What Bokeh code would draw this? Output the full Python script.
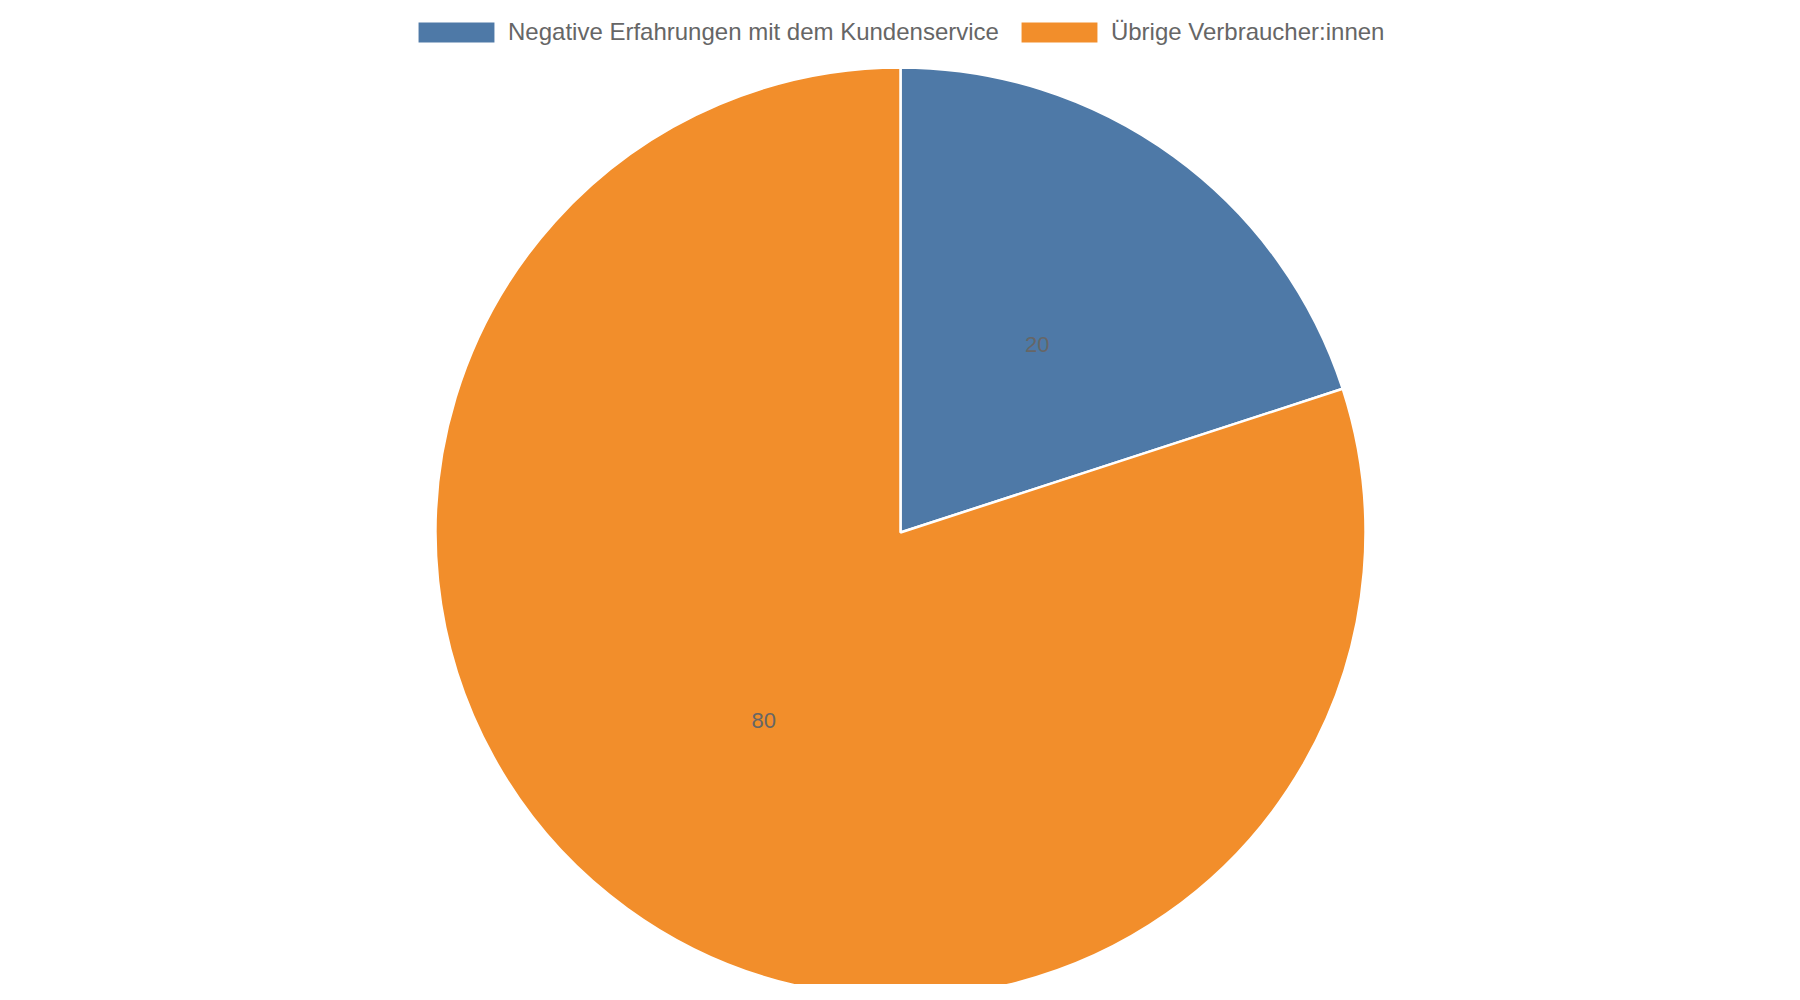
import numpy as np
from bokeh.plotting import figure
from bokeh.models import Range1d, ColumnDataSource, Legend, LegendItem
from bokeh.core.properties import value
from bokeh.embed import file_html
from bokeh.resources import INLINE

labels = ["Negative Erfahrungen mit dem Kundenservice", "Übrige Verbraucher:innen"]
values = [20, 80]
colors = ["#4e79a7", "#f28e2b"]

W, H = 1784, 984
radius = 465

# slices run clockwise from 12 o'clock
frac = np.array(values, dtype=float) / sum(values)
ends = np.pi / 2 - 2 * np.pi * np.concatenate([[0], np.cumsum(frac)[:-1]])
starts = ends - 2 * np.pi * frac
mids = (starts + ends) / 2

src = ColumnDataSource(dict(
    label=labels, value=values, color=colors,
    start=starts, end=ends,
    lx=0.5 * radius * np.cos(mids), ly=0.5 * radius * np.sin(mids),
    txt=[str(v) for v in values],
))

p = figure(width=W, height=H, output_backend="svg", toolbar_location=None,
           x_range=Range1d(-900, W - 900), y_range=Range1d(-(H - 532), 532),
           min_border=0)
p.axis.visible = False
p.grid.visible = False
p.outline_line_color = None
p.background_fill_color = "white"

items = []
for i in range(len(values)):
    r = p.wedge(x=0, y=0, radius=radius, start_angle=starts[i], end_angle=ends[i],
                fill_color=colors[i], line_color="white", line_width=2.5)
    items.append(LegendItem(label=labels[i], renderers=[r]))

p.text(x="lx", y="ly", text="txt", source=src, text_align="center",
       text_baseline="middle", text_color="#666666", text_font_size="22px",
       text_font=value("Liberation Sans"))

legend = Legend(items=items, orientation="horizontal", location=(407, H - 46),
                glyph_width=98, glyph_height=28, label_standoff=3, spacing=11,
                padding=0, margin=0, border_line_color=None,
                background_fill_alpha=0,
                label_text_font="Liberation Sans", label_text_font_size="24px",
                label_text_color="#666666")
p.add_layout(legend, "center")

open("out.html", "w").write(file_html(p, INLINE))
